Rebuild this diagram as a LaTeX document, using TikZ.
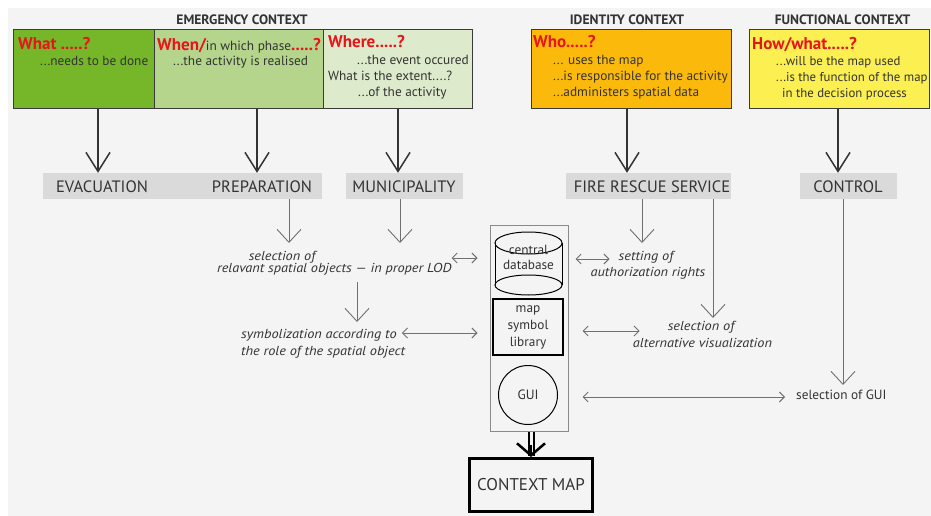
\documentclass[tikz,border=0pt]{standalone}
\usepackage{fontspec}
\setmainfont{PT Sans}[ItalicFeatures={FakeStretch=1.1}]
\usetikzlibrary{arrows.meta}
\definecolor{bgc}{HTML}{F4F4F4}
\definecolor{cwhat}{HTML}{76B72A}
\definecolor{cwhen}{HTML}{B4D58B}
\definecolor{cwhere}{HTML}{DDEACB}
\definecolor{cwho}{HTML}{FBBA0B}
\definecolor{chow}{HTML}{FBEF52}
\definecolor{qred}{HTML}{E8141B}
\definecolor{txt}{HTML}{333333}
\definecolor{barc}{HTML}{DADADA}
\definecolor{boxline}{HTML}{3A3A3A}
\definecolor{grayl}{HTML}{707070}
\definecolor{darkl}{HTML}{333333}
\definecolor{colline}{HTML}{8A8A8A}
\tikzset{
  cbox/.style={draw=boxline, line width=1pt, inner sep=0pt},
  hdr/.style={font=\bfseries\fontsize{13.6}{16}\selectfont, text=txt, anchor=base, inner sep=0pt},
  qtxt/.style={font=\bfseries\fontsize{17}{20}\selectfont, text=qred, anchor=base west, inner sep=0pt},
  body/.style={font=\fontsize{13.3}{16}\selectfont, text=txt, anchor=base west, inner sep=0pt},
  barbox/.style={fill=barc, inner sep=0pt},
  barlbl/.style={font=\fontsize{16.5}{19}\selectfont, text=txt, anchor=base, inner sep=0pt},
  bigarr/.style={draw=darkl, line width=1.5pt, -{Straight Barb[length=19pt,width=24pt,line width=1.5pt]}},
  thinarr/.style={draw=grayl, line width=0.9pt, -{Straight Barb[length=13pt,width=24pt,line width=0.9pt]}},
  dblarr/.style={draw=grayl, line width=0.9pt, {Straight Barb[length=5pt,width=10pt,line width=0.9pt]}-{Straight Barb[length=5pt,width=10pt,line width=0.9pt]}},
  ital/.style={font=\itshape\fontsize{13}{15}\selectfont, text=txt, inner sep=0pt},
  plain/.style={font=\fontsize{13.3}{15}\selectfont, text=txt, inner sep=0pt},
}
\begin{document}
\begin{tikzpicture}[x=1pt,y=-1pt]
\useasboundingbox (0,0) rectangle (931,516);
\fill[white] (0,0) rectangle (931,516);
\fill[bgc] (8,8) rectangle (931,516);

% headers
\node[hdr] (hemerg) at (242,25) {EMERGENCY CONTEXT};
\node[hdr] (hident) at (627,25) {IDENTITY CONTEXT};
\node[hdr] (hfunc) at (842.5,25) {FUNCTIONAL CONTEXT};

% context boxes
\node[cbox, fill=cwhat, minimum width=141pt, minimum height=79pt] (what) at (83.5,69.5) {};
\node[cbox, fill=cwhen, minimum width=169pt, minimum height=79pt] (when) at (238.5,69.5) {};
\node[cbox, fill=cwhere, minimum width=149pt, minimum height=79pt] (where) at (397.5,69.5) {};
\node[cbox, fill=cwho, minimum width=200pt, minimum height=79pt] (who) at (631,69.5) {};
\node[cbox, fill=chow, minimum width=180pt, minimum height=79pt] (how) at (839,69.5) {};

% texts in boxes
\node[qtxt] (whatq) at (18,50) {What .....?};
\node[body] (whatb) at (40,66) {...needs to be done};

\node[qtxt] (whenq) at (157,51) {When/{\color{txt}\mdseries\fontsize{13.3}{16}\selectfont in which phase}.....?};
\node[body] (whenb) at (173,66) {...the activity is realised};

\node[qtxt] (whereq) at (328,48) {Where.....?};
\node[body] (whereb1) at (357,65) {...the event occured};
\node[body] (whereb2) at (328,81) {What is the extent....?};
\node[body] (whereb3) at (358,97) {...of the activity};

\node[qtxt] (whoq) at (533,48) {Who.....?};
\node[body] (whob1) at (553,65) {... uses the map};
\node[body] (whob2) at (553,81) {...is responsible for the activity};
\node[body] (whob3) at (553,97) {...administers spatial data};

\node[qtxt] (howq) at (752,50) {How/what.....?};
\node[body, font=\fontsize{12.8}{16}\selectfont] (howb1) at (776,66) {...will be the map used};
\node[body, font=\fontsize{12.8}{16}\selectfont] (howb2) at (776,82) {...is the function of the map};
\node[body, font=\fontsize{12.8}{16}\selectfont] (howb3) at (782,98) {in the decision process};

% gray bars
\node[barbox, minimum width=279pt, minimum height=26pt] (bar1) at (182.5,186) {};
\node[barbox, minimum width=117pt, minimum height=26pt] (bar2) at (404.5,186) {};
\node[barbox, minimum width=165pt, minimum height=26pt] (bar3) at (648.5,186) {};
\node[barbox, minimum width=97pt, minimum height=26pt] (bar4) at (848.5,186) {};
\node[barlbl] (evac) at (102,192) {EVACUATION};
\node[barlbl] (prep) at (262,192) {PREPARATION};
\node[barlbl] (muni) at (404,192) {MUNICIPALITY};
\node[barlbl] (fire) at (652,192) {FIRE RESCUE SERVICE};
\node[barlbl] (ctrl) at (848,192) {CONTROL};

% big arrows
\draw[bigarr] (98,0 |- what.south) -- (98,0 |- bar1.north);
\draw[bigarr] (257,0 |- when.south) -- (257,0 |- bar1.north);
\draw[bigarr] (398,0 |- where.south) -- (398,0 |- bar2.north);
\draw[bigarr] (627,0 |- who.south) -- (627,0 |- bar3.north);
\draw[bigarr] (838,0 |- how.south) -- (838,0 |- bar4.north);

% labels
\node[ital, anchor=base] (sel1) at (282,260) {selection of};
\node[ital, anchor=base west] (rel) at (217,272) {relavant spatial objects --- in proper LOD};
\node[ital, anchor=base west] (sym1) at (241,338) {symbolization according to};
\node[ital, anchor=base west] (sym2) at (241,355) {the role of the spatial object};
\node[ital, anchor=base] (set1) at (646,260) {setting of};
\node[ital, anchor=base] (set2) at (648,276) {authorization rights};
\node[ital, anchor=base] (alt1) at (701,330) {selection of};
\node[ital, anchor=base] (alt2) at (702.5,347) {alternative visualization};
\node[plain, anchor=base west] (selgui) at (796,399) {selection of GUI};

% central column
\node[draw=colline, line width=1pt, minimum width=78pt, minimum height=206pt, inner sep=0pt] (col) at (529,328) {};
\draw[black, line width=1pt] (495,243) -- (495,285) (562,243) -- (562,285);
\draw[black, line width=1pt] (528.5,243) ellipse [x radius=33.5pt, y radius=11pt];
\draw[black, line width=1pt] (528.5,285) ellipse [x radius=33.5pt, y radius=10pt];
\node[plain, align=center, font=\fontsize{13.3}{15}\selectfont] (db) at (528.5,257) {central\\database};
\node[draw=black, line width=1.2pt, minimum width=70pt, minimum height=56pt, inner sep=0pt, align=center, font=\fontsize{13.3}{17}\selectfont, text=txt] (maplib) at (528,327) {map\\symbol\\library};
\node[draw=black, line width=1pt, circle, minimum size=59pt, inner sep=0pt, font=\fontsize{13.5}{15}\selectfont, text=txt] (gui) at (528,395) {GUI};

% context map
\node[draw=black, line width=3pt, minimum width=123pt, minimum height=53pt, inner sep=0pt, font=\fontsize{17}{19}\selectfont, text=txt] (cmap) at (531,485) {CONTEXT MAP};
\draw[black, line width=2pt, double=bgc, double distance=3pt] (col.south -| cmap.north) -- ([yshift=1pt]cmap.north);
\draw[black, line width=2.5pt, -{Straight Barb[length=12pt,width=28pt,line width=2.5pt]}] ([yshift=12pt]cmap.north) -- (cmap.north);

% thin arrows
\coordinate (t1) at (289,243);
\coordinate (t2) at (400,243);
\coordinate (t3) at (642,243);
\coordinate (t4) at (713,318);
\coordinate (t5) at (843,385);
\coordinate (t6) at (357,322);
\draw[thinarr] (t1 |- bar1.south) -- (t1);
\draw[thinarr] (t2 |- bar2.south) -- (t2);
\draw[thinarr] (t3 |- bar3.south) -- (t3);
\draw[thinarr] (t4 |- bar3.south) -- (t4);
\draw[thinarr] (t5 |- bar4.south) -- (t5);
\draw[thinarr] (t6 |- 0,282) -- (t6);

% double arrows
\draw[dblarr, shorten >=12pt] (rel.east |- 0,258) -- (col.west |- 0,258);
\draw[dblarr, shorten <=7pt, shorten >=9pt] (col.east |- 0,259) -- (set1.west |- 0,259);
\draw[dblarr, shorten <=5pt, shorten >=12pt] (sym1.east |- 0,333) -- (col.west |- 0,333);
\draw[dblarr, shorten <=14pt, shorten >=28pt] (col.east |- 0,331) -- (alt1.west |- 0,331);
\draw[dblarr, shorten <=14pt, shorten >=11pt] (col.east |- 0,397) -- (selgui.west |- 0,397);
\end{tikzpicture}
\end{document}
